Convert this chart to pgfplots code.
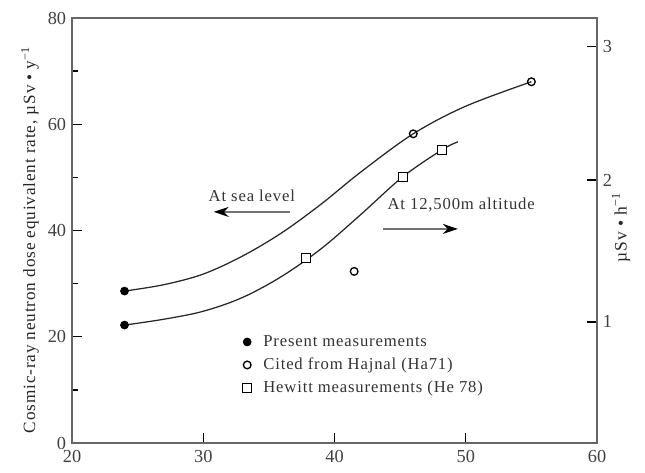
\documentclass[border=0pt]{standalone}
\usepackage{fontspec}
\setmainfont{Liberation Serif}
\newfontfamily\wide[LetterSpace=5]{Liberation Serif}
\usepackage{pgfplots}
\pgfplotsset{compat=1.18}
\usetikzlibrary{arrows.meta}
\begin{document}
\begin{tikzpicture}
\path[use as bounding box] (-43.2pt,-17.4pt) rectangle (343.8pt,265.8pt);
\begin{axis}[
  scale only axis, width=315pt, height=255pt,
  xmin=20, xmax=60, ymin=0, ymax=80,
  xtick={20,30,40,50,60}, ytick={0,20,40,60,80}, minor ytick={10,30,50,70},
  xtick pos=bottom, ytick pos=left, tick align=inside,
  major tick length=6pt, minor tick length=3.5pt,
  axis line style={black!60, line width=1.2pt},
  tick style={black, line width=0.8pt},
  /pgf/number format/assume math mode=true,
  ticklabel style={font=\fontsize{11}{13}\selectfont, text=black!75},
  xticklabel style={yshift=-1pt},
  ylabel={Cosmic-ray neutron dose equivalent rate, µSv • y\textsuperscript{−1}},
  ylabel style={font=\wide\fontsize{10.3}{12}\selectfont, text=black!85, yshift=-1.5pt, xshift=-5.5pt},
  legend style={draw=none, fill=none, at={(axis cs:32.6,21.6)}, anchor=north west,
    font=\wide\fontsize{10}{12}\selectfont, row sep=1.5pt, column sep=5pt, text=black!80},
  legend cell align=left,
  clip=false,
]
% curves
\addplot[black!85, line width=0.75pt, smooth, tension=0.55, forget plot] coordinates {
 (24,28.6) (27,29.8) (30,31.8) (33,35.2) (36,39.6) (39,45.0) (42,51.0) (46,58.2) (50,63.4) (55,68)};
\addplot[black!85, line width=0.75pt, smooth, tension=0.55, forget plot] coordinates {
 (24,22.2) (27,23.3) (30,24.8) (33,27.4) (36,31.4) (39,36.6) (42,43.0) (45.2,50.1) (48.2,55.2) (49.4,56.7)};
% markers
\addplot[only marks, mark=*, mark size=2.4pt, black] coordinates {(24,28.6) (24,22.2)};
\addlegendentry{Present measurements}
\addplot[only marks, mark=o, mark size=2.3pt, black, line width=0.8pt, mark options={fill=white}] coordinates {(46,58.2) (55,68) (41.5,32.3)};
\addlegendentry{Cited from Hajnal (Ha71)}
\addplot[only marks, mark=square*, mark size=2.7pt, black, line width=0.7pt, mark options={fill=white}] coordinates {(37.8,34.8) (45.2,50.1) (48.2,55.2)};
\addlegendentry{Hewitt measurements (He 78)}
% annotations
\node[font=\wide\fontsize{10}{12}\selectfont, text=black!80] at (axis cs:33.7,46.6) {At sea level};
\draw[black!55, line width=1.1pt, -{Stealth[length=9pt,width=6pt,black]}] (axis cs:36.6,43.5) -- (axis cs:30.8,43.5);
\node[font=\wide\fontsize{10}{12}\selectfont, text=black!80, anchor=west] at (axis cs:43.6,44.8) {At 12,500m altitude};
\draw[black!55, line width=1.1pt, -{Stealth[length=9pt,width=6pt,black]}] (axis cs:43.7,40.3) -- (axis cs:49.4,40.3);
\end{axis}
\begin{axis}[
  scale only axis, width=315pt, height=255pt,
  xmin=20, xmax=60, ymin=0, ymax=80,
  axis x line=none, axis y line*=right,
  ytick={22.8,49.5,74.6}, yticklabels={1,2,3},
  tick align=inside, major tick length=6pt,
  axis line style={black!60, line width=1.2pt},
  tick style={black, line width=0.8pt},
  ticklabel style={font=\fontsize{11}{13}\selectfont, text=black!75},
  ylabel={µSv • h\textsuperscript{−1}},
  ylabel style={font=\wide\fontsize{10.5}{12}\selectfont, text=black!85, yshift=7pt, xshift=2pt},
]
\end{axis}
\end{tikzpicture}
\end{document}
